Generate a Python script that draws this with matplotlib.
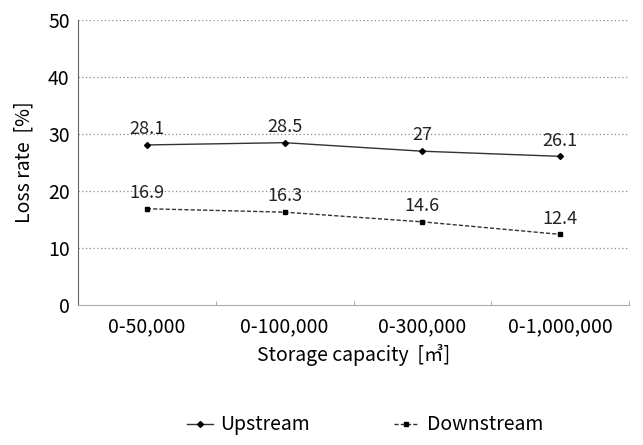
import matplotlib
matplotlib.use('Agg')
import matplotlib.pyplot as plt
from matplotlib.lines import Line2D

plt.rcParams['font.family'] = ['Noto Sans CJK KR', 'DejaVu Sans']

categories = ['0-50,000', '0-100,000', '0-300,000', '0-1,000,000']
upstream = [28.1, 28.5, 27, 26.1]
downstream = [16.9, 16.3, 14.6, 12.4]
up_labels = ['28.1', '28.5', '27', '26.1']
down_labels = ['16.9', '16.3', '14.6', '12.4']
yticks = [0, 10, 20, 30, 40, 50]

fig = plt.figure(figsize=(6.43, 4.45), dpi=100)
ax = fig.add_axes([0.1213, 0.3146, 0.857, 0.640])

x = list(range(len(categories)))
ax.plot(x, upstream, '-', color='#333333', lw=1.0, marker='D', ms=3,
        mfc='black', mec='black')
ax.plot(x, downstream, '--', color='#333333', lw=1.0, marker='s', ms=3,
        mfc='black', mec='black', dashes=(3, 1.5))

for i in x:
    ax.text(i, upstream[i] + 1.2, up_labels[i], ha='center', va='bottom',
            fontsize=13, color='#222222')
    ax.text(i, downstream[i] + 1.2, down_labels[i], ha='center', va='bottom',
            fontsize=13, color='#222222')

ax.set_xlim(-0.5, 3.5)
ax.set_ylim(0, 50)
ax.set_yticks(yticks)
ax.set_yticklabels([str(t) for t in yticks], fontsize=14)
ax.set_xticks(x)
ax.set_xticklabels(categories, fontsize=14)
ax.set_xticks([-0.5, 0.5, 1.5, 2.5, 3.5], minor=True)
ax.tick_params(axis='x', which='major', length=0, pad=8)
ax.tick_params(axis='x', which='minor', length=3, color='#999999', direction='in')
ax.tick_params(axis='y', length=0, pad=6)

for y in yticks[1:]:
    ax.axhline(y, color='#888888', lw=0.9, ls=(0, (1, 2)), zorder=0)

ax.spines['top'].set_visible(False)
ax.spines['right'].set_visible(False)
ax.spines['left'].set_color('#666666')
ax.spines['bottom'].set_color('#aaaaaa')

ax.set_ylabel('Loss rate  [%]', fontsize=14, labelpad=10)
ax.set_xlabel('Storage capacity  [㎥]', fontsize=14, labelpad=5)

handles = [
    Line2D([], [], color='#333333', lw=1.0, marker='D', ms=3, mfc='black', mec='black'),
    Line2D([], [], color='#333333', lw=1.0, ls='--', dashes=(3, 1.5), marker='s', ms=3,
           mfc='black', mec='black'),
]
fig.legend(handles, ['Upstream', 'Downstream'], loc='center', bbox_to_anchor=(0.568, 0.045),
           ncol=2, frameon=False, fontsize=14, handlelength=1.3, columnspacing=4.3,
           handletextpad=0.4)

fig.savefig('out.png', dpi=100)
